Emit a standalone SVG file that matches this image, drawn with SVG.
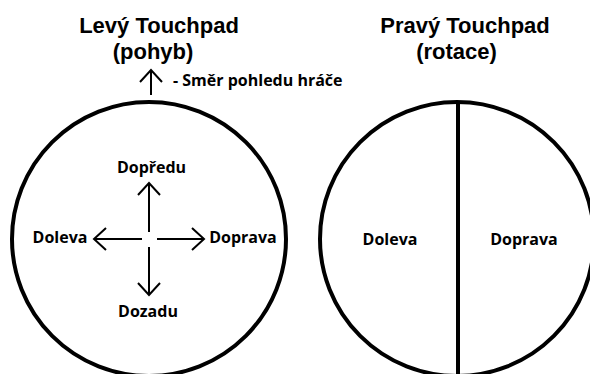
<svg xmlns="http://www.w3.org/2000/svg" width="590" height="374" viewBox="0 0 590 374">
<style>
  .pad { fill: none; stroke: #000; stroke-width: 4; }
  .title { font-family: "Liberation Sans", Arial, sans-serif; font-weight: bold; font-size: 22px; fill: #000; text-anchor: middle; }
  .lbl { font-family: "Open Sans", "Liberation Sans", sans-serif; font-weight: bold; font-size: 16px; fill: #000; }
  .mid { text-anchor: middle; }
  .arr { fill: none; stroke: #000; stroke-width: 2; marker-end: url(#head); }
</style>
<defs>
  <marker id="head" markerUnits="userSpaceOnUse" viewBox="-14 -13 16 26" refX="0" refY="0" markerWidth="16" markerHeight="26" orient="auto" overflow="visible">
    <path d="M-12,-11 L0,0 L-12,11" fill="none" stroke="#000" stroke-width="2"/>
  </marker>
</defs>
<rect width="590" height="374" fill="#fff"/>
<g id="left-pad">
  <text class="title" x="159" y="33">Levý Touchpad</text>
  <text class="title" x="153" y="58.5">(pohyb)</text>
  <circle class="pad" cx="149" cy="239" r="137"/>
  <text class="lbl mid" x="151.5" y="173">Dopředu</text>
  <text class="lbl mid" x="60" y="243">Doleva</text>
  <text class="lbl mid" x="243" y="243">Doprava</text>
  <text class="lbl mid" x="148" y="317">Dozadu</text>
</g>
<g id="view-direction">
  <text class="lbl" x="173" y="86">- Směr pohledu hráče</text>
</g>
<g id="right-pad">
  <text class="title" x="465" y="33">Pravý Touchpad</text>
  <text class="title" x="456.5" y="58.5">(rotace)</text>
  <circle class="pad" cx="457" cy="239" r="137"/>
  <line class="pad" x1="458" y1="102" x2="458" y2="374"/>
  <text class="lbl mid" x="390" y="245">Doleva</text>
  <text class="lbl mid" x="524" y="245">Doprava</text>
</g>
<g id="connectors">
  <line class="arr" x1="151" y1="95" x2="151" y2="70"/>
  <line class="arr" x1="149" y1="232" x2="149" y2="183"/>
  <line class="arr" x1="149" y1="247" x2="149" y2="295"/>
  <line class="arr" x1="142" y1="239" x2="94" y2="239"/>
  <line class="arr" x1="157" y1="239" x2="204" y2="239"/>
</g>
</svg>
